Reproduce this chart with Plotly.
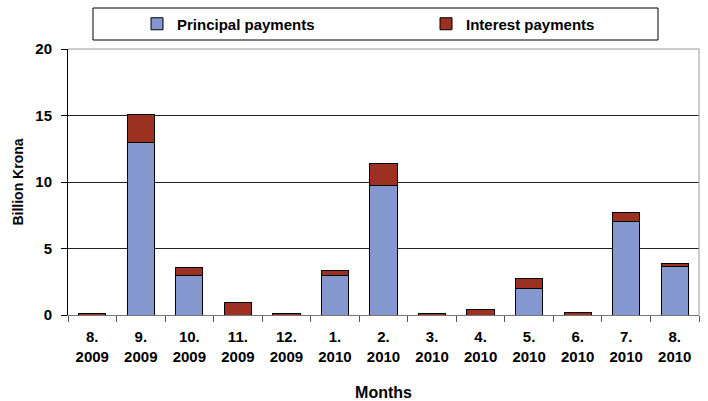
import plotly.graph_objects as go

# Monthly debt service, billion krona
months = ["8.<br>2009", "9.<br>2009", "10.<br>2009", "11.<br>2009", "12.<br>2009",
          "1.<br>2010", "2.<br>2010", "3.<br>2010", "4.<br>2010", "5.<br>2010",
          "6.<br>2010", "7.<br>2010", "8.<br>2010"]
principal = [0.0, 13.0, 3.0, 0.0, 0.0, 2.95, 9.77, 0.0, 0.0, 1.97, 0.0, 7.0, 3.68]
interest = [0.13, 2.07, 0.55, 0.97, 0.15, 0.36, 1.6, 0.15, 0.43, 0.8, 0.17, 0.7, 0.18]
y_ticks = [0, 5, 10, 15, 20]

FONT = "Liberation Sans"
BLUE = "#8497cf"
RED = "#9c3021"

W, H = 708, 401
L, R, T, B = 68, 9, 49, 86
PW, PH = W - L - R, H - T - B

fig = go.Figure()
fig.add_trace(go.Bar(
    x=months, y=principal, name="Principal payments", legend="legend",
    marker=dict(color=BLUE, line=dict(color="#000000", width=1)),
))
fig.add_trace(go.Bar(
    x=months, y=interest, name="Interest payments", legend="legend2",
    marker=dict(color=RED, line=dict(color="#000000", width=1)),
))

# Legend frame
fig.add_shape(type="rect", xref="paper", yref="paper",
              x0=(93 - L) / PW, x1=(658 - L) / PW,
              y0=(H - B - 40) / PH, y1=(H - B - 8) / PH,
              line=dict(color="#000000", width=1), fillcolor="white", layer="below")
# Grey frame on the top and right of the plot area
fig.add_shape(type="line", xref="paper", yref="paper", x0=0, x1=1, y0=1, y1=1,
              line=dict(color="#9a9a9a", width=1), layer="above")
fig.add_shape(type="line", xref="paper", yref="paper", x0=1, x1=1, y0=0, y1=1,
              line=dict(color="#9a9a9a", width=1), layer="above")

legend_common = dict(
    orientation="h",
    xref="container", xanchor="left",
    yref="container", y=1 - 24 / H, yanchor="middle",
    bgcolor="rgba(0,0,0,0)", borderwidth=0, itemwidth=30,
    font=dict(family=FONT, size=15, color="#000000", weight="bold"),
)

fig.update_layout(
    barmode="stack",
    bargap=0.44,
    width=W, height=H,
    margin=dict(l=L, r=R, t=T, b=B, autoexpand=False),
    paper_bgcolor="white", plot_bgcolor="white",
    font=dict(family=FONT, size=14, color="#000000"),
    showlegend=True,
    legend=dict(legend_common, x=137 / W),
    legend2=dict(legend_common, x=426 / W),
    xaxis=dict(
        tickfont=dict(family=FONT, size=15, weight="bold"),
        ticks="outside", tickson="boundaries", ticklen=6, tickcolor="#555555",
        ticklabelstandoff=8,
        showline=True, linecolor="#777777", linewidth=1,
        title=dict(text="Months", font=dict(family=FONT, size=16, weight="bold"), standoff=26),
    ),
    yaxis=dict(
        range=[0, 20], tickvals=y_ticks,
        tickfont=dict(family=FONT, size=15, weight="bold"),
        ticks="outside", ticklen=6, tickcolor="#000000",
        ticklabelstandoff=6,
        showline=True, linecolor="#000000", linewidth=1,
        showgrid=True, gridcolor="#222222", gridwidth=1,
        zeroline=False,
        title=dict(text="Billion Krona", font=dict(family=FONT, size=14, weight="bold"), standoff=8),
    ),
)

fig.write_html("out.html")
